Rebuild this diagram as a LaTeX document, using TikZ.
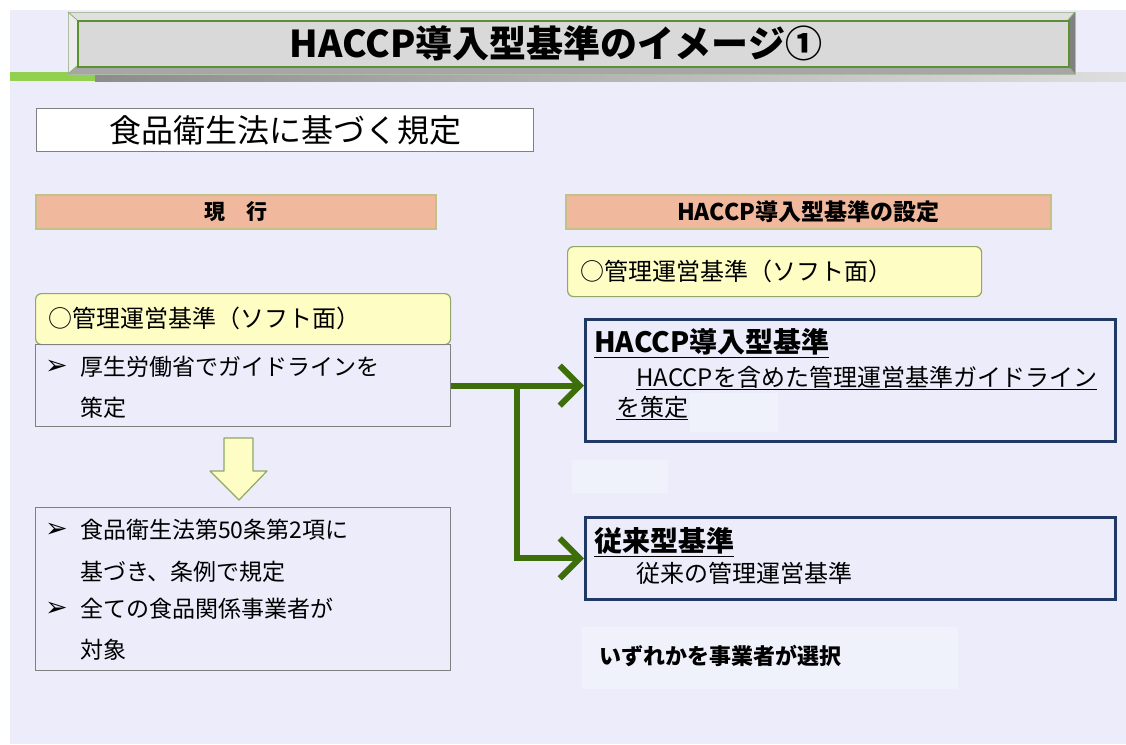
\documentclass[tikz,border=0pt]{standalone}
\usepackage{fontspec}
\setmainfont{Noto Sans CJK JP}
\newfontfamily\symfont{DejaVu Sans}
\usetikzlibrary{arrows.meta}
\definecolor{bg}{RGB}{237,236,251}
\definecolor{faint}{RGB}{239,241,251}
\definecolor{barGreen}{RGB}{146,208,80}
\definecolor{salmon}{RGB}{240,184,156}
\definecolor{khaki}{RGB}{196,192,138}
\definecolor{lyellow}{RGB}{254,253,195}
\definecolor{yborder}{RGB}{143,168,106}
\definecolor{navy}{RGB}{31,56,100}
\definecolor{dgreen}{RGB}{62,110,10}
\definecolor{tgreen}{RGB}{91,145,48}
\newcommand\myfs[1]{\fontsize{#1}{#1}\selectfont}
\begin{document}
\begin{tikzpicture}[x=1pt,y=-1pt,
  box/.style={inner sep=0pt, anchor=north west},
  graybox/.style={box, draw=black!50, line width=1.3pt},
  salmonbar/.style={box, fill=salmon, draw=khaki, line width=1.5pt},
  yellowbox/.style={box, fill=lyellow, draw=yborder, line width=1.2pt, rounded corners=6pt},
  navybox/.style={box, draw=navy, line width=2.6pt},
  txt/.style={inner sep=0pt, anchor=west, text=black},
  bul/.style={txt, font=\symfont\myfs{27}},
  garrow/.style={draw=dgreen, line width=6pt, -{Straight Barb[length=20pt,width=40pt]}},
  faintbox/.style={fill=faint}
]
\useasboundingbox (0,0) rectangle (1126,744);
\fill[white] (0,0) rectangle (1126,744);
\fill[bg] (10,10) rectangle (1126,744);

% faint rectangles
\fill[faintbox] (690,393) rectangle (778,432);
\fill[faintbox] (572,460) rectangle (668,493);
\fill[faintbox] (582,627) rectangle (958,689);

% title band
\fill[barGreen] (10,72) rectangle (95,81);
\shade[left color=black!45, right color=black!13] (95,72) rectangle (1126,81);

% title bevel box
\fill[black!12] (68,12) -- (1075,12) -- (1068,20) -- (77,20) -- cycle;
\fill[black!7] (68,12) -- (77,20) -- (77,66) -- (68,74) -- cycle;
\fill[black!50] (1075,12) -- (1075,74) -- (1068,66) -- (1068,20) -- cycle;
\fill[black!35] (68,74) -- (1075,74) -- (1068,66) -- (77,66) -- cycle;
\draw[tgreen!60!black!40, line width=0.8pt] (68,12) rectangle (1075,74);
\draw[tgreen!70, line width=0.8pt] (68,12) -- (77,20) (1075,12) -- (1068,20) (68,74) -- (77,66) (1075,74) -- (1068,66);
\node[box, fill=black!15, draw=tgreen, line width=1.5pt, minimum width=991, minimum height=46] (titlebox) at (77,20) {};
\node[inner sep=0pt, font=\myfs{37}\bfseries] (title) at (556,43) {HACCP導入型基準のイメージ①};

% law box
\node[graybox, fill=white, minimum width=497, minimum height=43, font=\myfs{32}] (law) at (36,108) {食品衛生法に基づく規定};

% salmon bars
\node[salmonbar, minimum width=400, minimum height=34, font=\myfs{21}\bfseries] (genko) at (35,194) {現　行};
\node[salmonbar, minimum width=485, minimum height=34, font=\myfs{23}\bfseries] (settei) at (565,194) {HACCP導入型基準の設定};

% yellow boxes
\node[yellowbox, minimum width=415, minimum height=51] (ly) at (35,293) {};
\node[txt, font=\myfs{24}] (lyt) at (48,318) {○管理運営基準（ソフト面）};
\node[yellowbox, minimum width=414, minimum height=50] (ry) at (567,246) {};
\node[txt, font=\myfs{24}] (ryt) at (580,271) {○管理運営基準（ソフト面）};

% left boxes
\node[graybox, minimum width=415, minimum height=82] (cur) at (35,344) {};
\node[bul] (b1) at (45,367) {➢};
\node[txt, font=\myfs{23}] (c1) at (80,367) {厚生労働省でガイドラインを};
\node[txt, font=\myfs{23}] (c2) at (80,408) {策定};

% down block arrow
\filldraw[fill=lyellow, draw=yborder, line width=1.2pt, line join=round]
  (224,438) -- (253,438) -- (253,471) -- (267,471) -- (239,500) -- (210,471) -- (224,471) -- cycle;

\node[graybox, minimum width=415, minimum height=163] (rule) at (35,507) {};
\node[bul] (b2) at (45,530) {➢};
\node[txt, font=\myfs{23}] (r1) at (80,530) {食品衛生法第50条第2項に};
\node[txt, font=\myfs{23}] (r2) at (80,572) {基づき、条例で規定};
\node[bul] (b3) at (45,609) {➢};
\node[txt, font=\myfs{23}] (r3) at (80,609) {全ての食品関係事業者が};
\node[txt, font=\myfs{23}] (r4) at (80,650) {対象};

% right boxes
\node[navybox, minimum width=530, minimum height=122] (hac) at (584,318) {};
\node[txt, font=\myfs{28}\bfseries] (h1) at (594,343) {\underline{HACCP導入型基準}};
\node[txt, font=\myfs{24}] (h2) at (636,378) {\underline{HACCPを含めた管理運営基準ガイドライン}};
\node[txt, font=\myfs{24}] (h3) at (616,408) {\underline{を策定}};

\node[navybox, minimum width=530, minimum height=82] (trad) at (584,516) {};
\node[txt, font=\myfs{28}\bfseries] (t1) at (594,542) {\underline{従来型基準}};
\node[txt, font=\myfs{24}] (t2) at (636,573) {従来の管理運営基準};

% selection note
\node[txt, font=\myfs{22}\bfseries] (sel) at (599,656) {いずれかを事業者が選択};

% connectors
\coordinate (j) at (517,385);
\draw[garrow] (cur.east) -- (cur.east -| hac.west);
\draw[garrow] (j) |- (trad.west);
\end{tikzpicture}
\end{document}
